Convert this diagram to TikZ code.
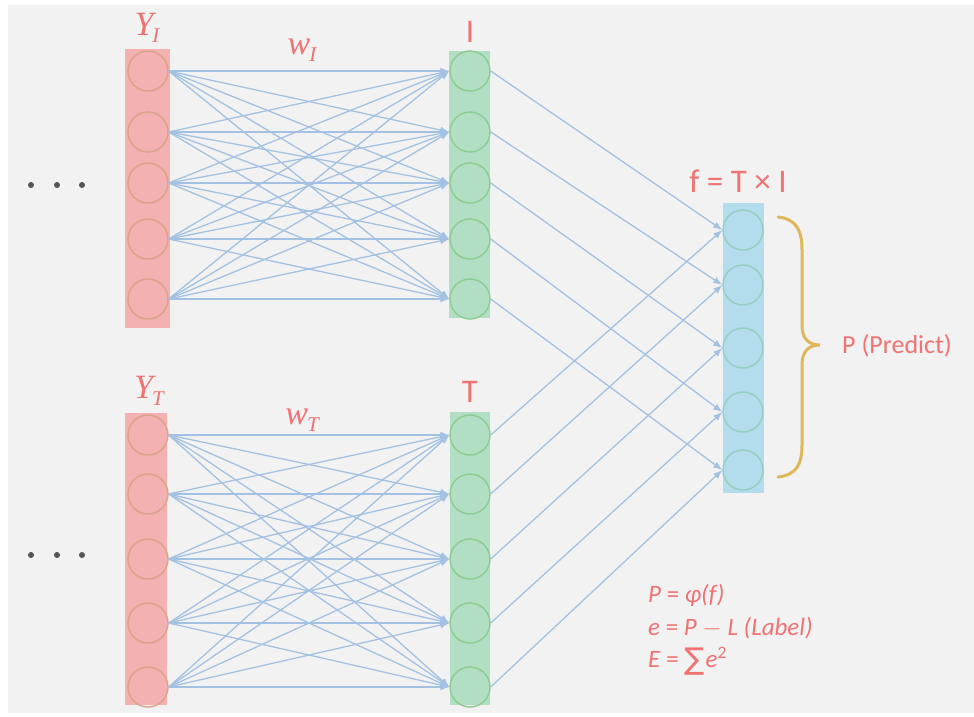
\documentclass[tikz,border=0pt]{standalone}
\usepackage{fix-cm}
\usepackage{fontspec}
\setmainfont{Carlito}
\newfontfamily\serifit{Liberation Serif}[UprightFont=* Italic]
\newfontfamily\dvsans{DejaVu Sans}
\usetikzlibrary{arrows.meta}
\definecolor{bggray}{HTML}{F2F2F2}
\definecolor{redfill}{HTML}{F4B1B1}
\definecolor{redline}{HTML}{D9A38A}
\definecolor{greenfill}{HTML}{B2DFC4}
\definecolor{greenline}{HTML}{8DCC91}
\definecolor{bluefill}{HTML}{B3DCEC}
\definecolor{blueline}{HTML}{96CFC0}
\definecolor{connblue}{HTML}{A3C2E3}
\definecolor{txtred}{HTML}{F07272}
\definecolor{bracegold}{HTML}{E0B65A}
\definecolor{dotgray}{HTML}{555555}
\newcommand{\sublbl}[2]{{\serifit #1\kern-1pt\raisebox{-7pt}{\fontsize{21}{21}\selectfont #2}}}
\begin{document}
\begin{tikzpicture}[x=1pt,y=-1pt,
  bar/.style={draw=none,rectangle,inner sep=0pt},
  redbar/.style={bar,fill=redfill},
  greenbar/.style={bar,fill=greenfill},
  bluebar/.style={bar,fill=bluefill},
  neuron/.style={circle,inner sep=0pt,minimum size=40pt,line width=1.4pt},
  rcirc/.style={neuron,draw=redline},
  gcirc/.style={neuron,draw=greenline},
  bcirc/.style={neuron,draw=blueline},
  conn/.style={draw=connblue,line width=1.3pt,-{Latex[length=9pt,width=7pt]}},
  lbl/.style={text=txtred,inner sep=0pt,font=\fontsize{33}{38}\selectfont},
  mlbl/.style={text=txtred,inner sep=0pt,font=\fontsize{34}{38}\selectfont},
  small/.style={text=txtred,inner sep=0pt,font=\fontsize{26}{30}\selectfont},
  eqlbl/.style={text=txtred,inner sep=0pt,font=\fontsize{25}{30}\selectfont},
  dotmark/.style={circle,fill=dotgray,inner sep=0pt,minimum size=6pt}
]
\useasboundingbox (0,0) rectangle (974,716);
\fill[white] (0,0) rectangle (974,716);
\fill[bggray] (8,5) rectangle (974,713);

% bars
\node[redbar,minimum width=45pt,minimum height=279pt] (barYI) at (147.5,188.5) {};
\node[greenbar,minimum width=41pt,minimum height=267pt] (barI) at (469.5,184.5) {};
\node[redbar,minimum width=42pt,minimum height=292pt] (barYT) at (146,559) {};
\node[greenbar,minimum width=40pt,minimum height=293pt] (barT) at (470,558.5) {};
\node[bluebar,minimum width=41pt,minimum height=290pt] (barF) at (743.5,348) {};

% neurons
\foreach \y [count=\i] in {71,132,183,239,299} {
  \node[rcirc] (yi\i) at (148,\y) {};
  \node[gcirc] (ii\i) at (470,\y) {};
}
\foreach \y [count=\i] in {435,494,559,623,687} {
  \node[rcirc] (yt\i) at (148,\y) {};
  \node[gcirc] (tt\i) at (470,\y) {};
}
\foreach \y [count=\i] in {230,285,348,412,470} {
  \node[bcirc] (ff\i) at (743,\y) {};
}

% connectors
\foreach \i in {1,...,5} {
  \foreach \j in {1,...,5} {
    \draw[conn] (yi\i.east) -- (ii\j.west);
    \draw[conn] (yt\i.east) -- (tt\j.west);
  }
  \draw[conn] (ii\i.east) -- (ff\i.west);
  \draw[conn] (tt\i.east) -- (ff\i.west);
}

% labels
\node[mlbl] (lYI) at (147,28) {\sublbl{Y}{I}};
\node[lbl] (lI) at (470,32) {I};
\node[mlbl] (lwI) at (302,50) {\sublbl{w}{I}};
\node[mlbl] (lYT) at (149,391) {\sublbl{Y}{T}};
\node[lbl] (lT) at (470,392) {T};
\node[mlbl] (lwT) at (302,420) {\sublbl{w}{T}};
\node[lbl] (lf) at (738,181) {f = T × I};

% dots
\foreach \x [count=\k] in {31,57,82} {
  \node[dotmark] (da\k) at (\x,185) {};
  \node[dotmark] (db\k) at (\x,555) {};
}

% brace
\draw[bracegold,line width=3pt,line cap=round]
  (778,217) .. controls (796,219) and (802,230) .. (802,250)
  -- (802,325) .. controls (802,338) and (808,345) .. (820,345)
  .. controls (808,345) and (802,352) .. (802,365)
  -- (802,445) .. controls (802,465) and (796,475) .. (778,477);
\coordinate (btip) at (820,345);
\node[small,anchor=west] (lP) at (842,346) {P (Predict)};

% formulas
\node[eqlbl,anchor=west] (eq1) at (648,595) {\textit{P} = \textit{φ(f)}};
\node[eqlbl,anchor=west] (eq2) at (648,628) {\textit{e} = \textit{P} $-$ \textit{L (Label)}};
\node[eqlbl,anchor=west] (eq3) at (648,661) {\textit{E} = {\dvsans\fontsize{30}{30}\selectfont\raisebox{-2pt}{∑}}\kern1pt\textit{e}\textsuperscript{2}};
\end{tikzpicture}
\end{document}
